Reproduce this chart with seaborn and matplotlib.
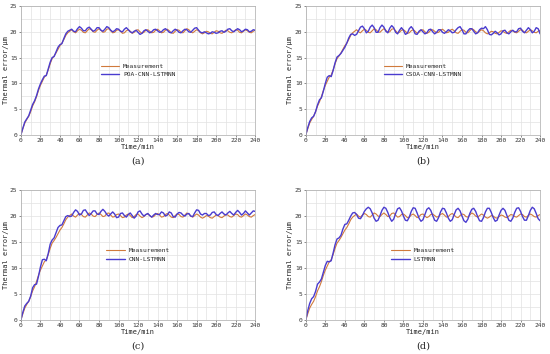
import matplotlib
matplotlib.use('Agg')
import matplotlib.pyplot as plt
import pandas as pd
import seaborn as sns
from matplotlib.ticker import MultipleLocator

# time axis (min), sampled every 2 min
TIME = list(range(0, 241, 2))

MEASUREMENT = [
    0.0, 1.2, 2.3, 3.0, 3.6, 4.5, 5.6, 6.4, 7.4, 8.6, 9.6, 10.4, 11.2, 11.6, 12.6, 13.8,
    14.8, 15.3, 15.9, 16.6, 17.3, 17.8, 18.5, 19.3, 19.8, 20.1, 20.4, 20.0, 19.8, 20.2, 20.5,
    20.3, 19.9, 19.8, 20.2, 20.6, 20.4, 20.0, 19.9, 20.3, 20.6, 20.3, 19.9, 20.0, 20.5, 20.6,
    20.2, 19.8, 19.9, 20.3, 20.4, 20.1, 19.7, 19.8, 20.2, 20.4, 20.1, 19.7, 19.9, 20.3, 20.4,
    20.0, 19.7, 19.9, 20.3, 20.4, 20.1, 19.8, 19.9, 20.3, 20.5, 20.2, 19.8, 19.9, 20.3, 20.5,
    20.2, 19.8, 19.7, 20.1, 20.4, 20.3, 19.9, 19.8, 20.2, 20.6, 20.4, 20.0, 19.8, 20.1, 20.4,
    20.2, 19.8, 19.6, 19.8, 20.1, 20.0, 19.7, 19.6, 19.9, 20.2, 20.1, 19.8, 19.7, 20.0, 20.3,
    20.2, 19.9, 19.8, 20.1, 20.4, 20.3, 19.9, 19.8, 20.1, 20.4, 20.2, 19.9, 19.8, 20.1, 20.3,
]

POA_CNN_LSTMNN = [
    0.0, 1.3, 2.5, 3.1, 3.7, 4.8, 5.9, 6.6, 7.6, 8.9, 9.9, 10.7, 11.4, 11.5, 12.8, 14.1,
    15.0, 15.2, 16.1, 17.0, 17.5, 17.7, 18.7, 19.6, 20.1, 20.3, 20.5, 20.1, 20.0, 20.6, 21.0,
    20.7, 20.2, 20.2, 20.7, 20.9, 20.5, 20.1, 20.3, 20.8, 20.8, 20.3, 20.1, 20.5, 21.0, 20.8,
    20.3, 20.0, 20.2, 20.6, 20.5, 20.1, 20.0, 20.5, 20.8, 20.4, 20.0, 19.8, 20.1, 20.3, 19.9,
    19.5, 19.7, 20.2, 20.4, 20.1, 19.8, 20.0, 20.4, 20.5, 20.2, 19.9, 20.0, 20.4, 20.6, 20.3,
    19.9, 19.8, 20.2, 20.5, 20.3, 19.9, 19.8, 20.2, 20.5, 20.4, 20.0, 19.9, 20.3, 20.7, 20.8,
    20.3, 19.9, 19.8, 20.0, 19.8, 19.6, 19.7, 20.0, 19.9, 19.7, 19.8, 20.1, 20.2, 19.9, 20.1,
    20.5, 20.6, 20.2, 20.0, 20.3, 20.6, 20.4, 20.0, 20.2, 20.5, 20.4, 20.0, 20.1, 20.4, 20.3,
]

CSOA_CNN_LSTMNN = [
    0.0, 1.4, 2.6, 3.3, 3.6, 4.5, 5.8, 6.8, 7.2, 8.5, 10.0, 11.2, 11.5, 11.3, 12.5, 14.0,
    15.1, 15.4, 15.8, 16.4, 17.0, 17.8, 18.8, 19.5, 19.6, 19.3, 19.5, 20.2, 20.9, 21.1, 20.6,
    19.8, 20.1, 20.9, 21.3, 20.8, 19.9, 19.9, 20.8, 21.3, 20.9, 20.1, 19.8, 20.7, 21.2, 20.8,
    19.9, 19.6, 20.3, 20.8, 20.3, 19.5, 19.7, 20.6, 21.0, 20.5, 19.6, 19.5, 20.1, 20.4, 20.0,
    19.6, 19.8, 20.4, 20.5, 20.0, 19.6, 19.9, 20.4, 20.4, 19.9, 19.7, 20.0, 20.4, 20.2, 19.8,
    19.9, 20.4, 20.8, 21.0, 20.4, 19.6, 19.6, 20.2, 20.6, 20.6, 20.1, 19.6, 19.8, 20.4, 20.7,
    20.6, 21.0, 20.4, 19.5, 19.4, 19.7, 20.1, 19.8, 19.4, 19.6, 20.2, 20.3, 19.8, 19.6, 20.0,
    20.3, 20.0, 20.0, 20.6, 20.7, 20.1, 19.8, 20.3, 20.8, 20.4, 19.8, 20.1, 20.8, 20.6, 19.6,
]

CNN_LSTMNN = [
    0.0, 1.5, 2.7, 3.2, 3.6, 4.6, 6.2, 6.8, 6.9, 8.4, 10.2, 11.6, 11.7, 11.4, 12.8, 14.6,
    15.4, 15.8, 16.8, 17.8, 18.2, 18.3, 19.1, 19.9, 20.1, 19.9, 20.0, 20.7, 21.2, 20.9, 20.2,
    20.4, 21.1, 21.2, 20.6, 20.1, 20.5, 21.0, 21.0, 20.4, 20.3, 20.9, 21.3, 20.9, 20.3, 20.0,
    20.4, 20.8, 20.4, 19.7, 19.8, 20.5, 20.6, 20.1, 19.8, 20.3, 20.6, 20.1, 19.6, 20.0, 20.8,
    21.0, 20.4, 20.0, 20.3, 20.5, 20.1, 19.8, 20.2, 20.5, 20.3, 20.3, 20.8, 20.6, 20.0, 20.2,
    20.8, 20.6, 19.9, 19.8, 20.4, 20.7, 20.6, 20.2, 20.0, 20.4, 20.5, 20.0, 19.9, 20.6, 21.2,
    21.1, 20.4, 20.2, 20.5, 20.5, 20.1, 20.2, 20.7, 20.8, 20.3, 20.1, 20.5, 20.8, 20.4, 20.2,
    20.6, 20.9, 20.5, 20.2, 20.7, 21.1, 20.7, 20.2, 20.5, 21.0, 20.6, 20.2, 20.6, 21.0, 20.9,
]

LSTMNN = [
    0.0, 1.8, 3.2, 4.1, 4.5, 5.5, 6.9, 7.3, 7.9, 9.2, 10.5, 11.3, 11.2, 11.4, 12.9, 14.5,
    15.6, 15.8, 16.3, 17.5, 18.4, 18.5, 19.2, 20.0, 20.6, 20.7, 20.3, 19.6, 19.5, 20.1, 20.9,
    21.4, 21.7, 21.4, 20.6, 19.6, 19.0, 19.2, 20.1, 21.1, 21.7, 21.5, 20.7, 19.7, 19.0, 19.4,
    20.5, 21.4, 21.6, 21.0, 20.0, 19.2, 19.1, 19.8, 20.9, 21.6, 21.5, 20.6, 19.6, 19.0, 19.3,
    20.3, 21.3, 21.6, 21.1, 20.1, 19.2, 19.0, 19.7, 20.8, 21.5, 21.4, 20.6, 19.6, 19.0, 19.3,
    20.3, 21.2, 21.5, 21.0, 20.0, 19.1, 18.8, 19.4, 20.5, 21.3, 21.5, 20.9, 19.9, 19.1, 19.0,
    19.7, 20.8, 21.5, 21.5, 20.7, 19.7, 19.0, 19.2, 20.2, 21.1, 21.5, 21.1, 20.1, 19.2, 19.0,
    19.6, 20.7, 21.5, 21.6, 20.9, 19.9, 19.2, 19.2, 20.1, 21.1, 21.7, 21.4, 20.5, 19.5, 19.1,
]

PANELS = [
    ('POA-CNN-LSTMNN', POA_CNN_LSTMNN, '(a)'),
    ('CSOA-CNN-LSTMNN', CSOA_CNN_LSTMNN, '(b)'),
    ('CNN-LSTMNN', CNN_LSTMNN, '(c)'),
    ('LSTMNN', LSTMNN, '(d)'),
]

MEAS_COLOR = '#d07a3c'
PRED_COLOR = '#4a3ccf'

sns.set_theme(style='white')
plt.rcParams['font.family'] = ['DejaVu Sans Mono', 'DejaVu Sans']

fig = plt.figure(figsize=(5.5, 3.54), dpi=100)

# axes rectangles in figure fractions
rects = [
    (0.038, 0.619, 0.426, 0.364),
    (0.556, 0.619, 0.426, 0.364),
    (0.038, 0.096, 0.426, 0.367),
    (0.556, 0.096, 0.426, 0.367),
]

for (name, pred, tag), rect in zip(PANELS, rects):
    ax = fig.add_axes(rect)
    df = pd.DataFrame({'Time': TIME, 'Measurement': MEASUREMENT, name: pred})
    sns.lineplot(data=df, x='Time', y='Measurement', ax=ax, color=MEAS_COLOR,
                 linewidth=0.8, label='Measurement')
    sns.lineplot(data=df, x='Time', y=name, ax=ax, color=PRED_COLOR,
                 linewidth=1.0, label=name)
    ax.set_xlim(0, 240)
    ax.set_ylim(0, 25)
    ax.xaxis.set_major_locator(MultipleLocator(20))
    ax.xaxis.set_minor_locator(MultipleLocator(10))
    ax.yaxis.set_major_locator(MultipleLocator(5))
    ax.yaxis.set_minor_locator(MultipleLocator(2.5))
    ax.grid(which='both', color='#e2e2e2', linewidth=0.5)
    ax.tick_params(which='major', labelsize=4.5, length=1.5, width=0.4, pad=1,
                   colors='#333333', bottom=True, left=True)
    ax.tick_params(which='minor', length=0)
    for s in ax.spines.values():
        s.set_color('#aaaaaa')
        s.set_linewidth(0.5)
    ax.set_xlabel('Time/min', fontsize=5, labelpad=0.5)
    ax.set_ylabel('Thermal error/\u03bcm', fontsize=5, labelpad=1)
    leg = ax.legend(loc='center', frameon=False, fontsize=4.5, handlelength=3.0,
                    handletextpad=0.6, labelspacing=0.5)
    ax.text(0.5, -0.2, tag, transform=ax.transAxes, ha='center', va='center',
            fontsize=7, family='DejaVu Serif')

fig.savefig('out.png', dpi=100)
